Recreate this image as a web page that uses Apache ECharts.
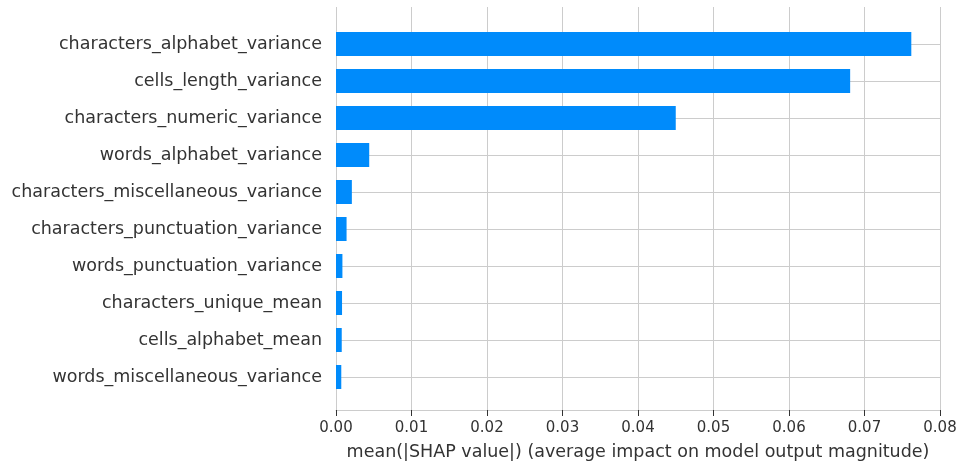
<!DOCTYPE html>
<html>
<head>
<meta charset="utf-8">
<script src="https://cdn.jsdelivr.net/npm/echarts@6/dist/echarts.min.js"></script>
<style>
  html, body { margin: 0; padding: 0; background: #fff; }
  #main { width: 960px; height: 466px; }
</style>
</head>
<body>
<div id="main"></div>
<script>
// features, top to bottom
const features = [
  'characters_alphabet_variance',
  'cells_length_variance',
  'characters_numeric_variance',
  'words_alphabet_variance',
  'characters_miscellaneous_variance',
  'characters_punctuation_variance',
  'words_punctuation_variance',
  'characters_unique_mean',
  'cells_alphabet_mean',
  'words_miscellaneous_variance'
];
// mean(|SHAP value|)
const meanShap = [0.0762, 0.0681, 0.0450, 0.0044, 0.0021, 0.0014, 0.00085, 0.0008, 0.00076, 0.0007];
const xTicks = [0, 0.01, 0.02, 0.03, 0.04, 0.05, 0.06, 0.07, 0.08];
const xName = 'mean(|SHAP value|) (average impact on model output magnitude)';

const font = 'DejaVu Sans';
const myChart = echarts.init(document.getElementById('main'));

const option = {
  animation: false,
  textStyle: { fontFamily: font },
  grid: [
    // outer grid: vertical gridlines + x axis
    { left: 336, right: 20, top: 7, bottom: 53 },
    // inner grid: rows, first and last category on the edges
    { left: 336, right: 20, top: 44, bottom: 89 }
  ],
  xAxis: [
    {
      gridIndex: 0,
      type: 'value',
      min: xTicks[0],
      max: xTicks[xTicks.length - 1],
      interval: 0.01,
      name: xName,
      nameLocation: 'middle',
      nameGap: 33,
      nameTextStyle: { fontSize: 17.5, color: '#333', fontFamily: font },
      axisLine: { show: true, lineStyle: { color: '#cccccc', width: 1 } },
      axisTick: { show: true, length: 6, lineStyle: { color: '#333' } },
      axisLabel: {
        fontSize: 15, color: '#333', fontFamily: font, margin: 11,
        formatter: v => v.toFixed(2)
      },
      splitLine: { show: true, lineStyle: { color: '#cccccc', width: 1 } }
    },
    {
      gridIndex: 1,
      type: 'value',
      min: xTicks[0],
      max: xTicks[xTicks.length - 1],
      show: false
    }
  ],
  yAxis: [
    { gridIndex: 0, type: 'value', show: false },
    {
      gridIndex: 1,
      type: 'category',
      inverse: true,
      boundaryGap: false,
      data: features,
      axisLine: { show: false },
      axisTick: { show: false },
      axisLabel: { fontSize: 17.5, color: '#333', fontFamily: font, margin: 14 },
      splitLine: { show: true, lineStyle: { color: '#cccccc', width: 1 } }
    }
  ],
  series: [
    {
      type: 'bar',
      xAxisIndex: 1,
      yAxisIndex: 1,
      data: meanShap,
      barWidth: 24,
      clip: false,
      itemStyle: { color: '#008bfb' }
    }
  ]
};

myChart.setOption(option);
</script>
</body>
</html>
